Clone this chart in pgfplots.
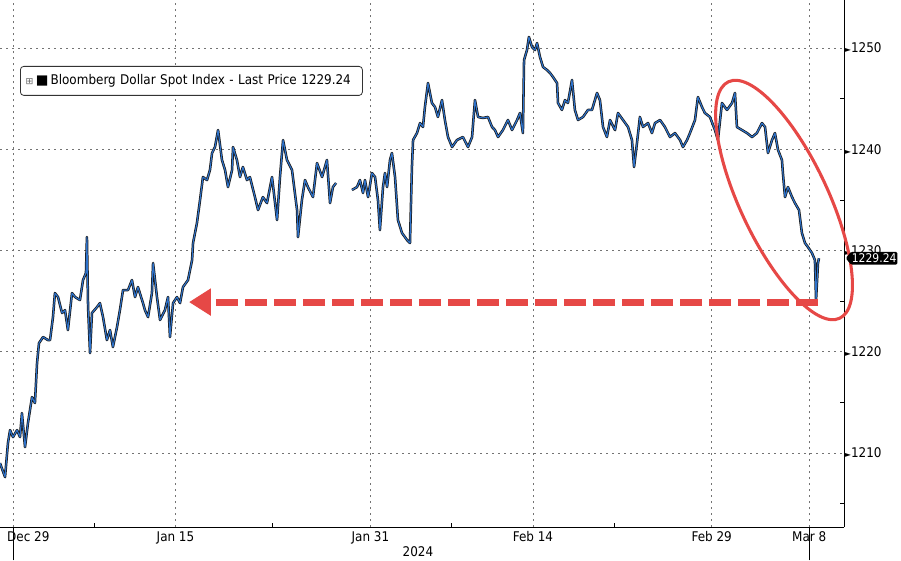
\documentclass[border=0pt]{standalone}
\usepackage{pgfplots}
\pgfplotsset{compat=1.18}
\usepackage{pgfplotstable}
\usepackage{fontspec}
\setmainfont{DejaVu Sans Condensed}
\newfontfamily\sym{DejaVu Sans}
\usetikzlibrary{arrows.meta,shapes.symbols}

\definecolor{bbblue}{RGB}{45,115,205}
\definecolor{annred}{RGB}{230,72,70}

% t = trading days since Dec 29, v = index level
\pgfplotstableread{
t v
-0.80 1209.01
-0.49 1207.63
-0.31 1210.99
-0.18 1212.27
0.00 1211.58
0.25 1212.27
0.43 1211.58
0.55 1213.95
0.74 1210.59
0.92 1212.96
1.17 1215.53
1.35 1214.94
1.48 1218.89
1.60 1220.86
1.85 1221.46
2.15 1221.16
2.28 1221.16
2.46 1223.43
2.58 1225.80
2.77 1225.41
3.02 1223.83
3.20 1224.12
3.38 1222.15
3.63 1225.80
3.82 1225.41
4.12 1225.11
4.31 1227.09
4.49 1227.78
4.55 1231.33
4.62 1224.42
4.74 1219.88
4.86 1223.83
5.17 1224.42
5.35 1224.81
5.54 1223.43
5.78 1221.16
5.97 1222.15
6.15 1220.47
6.40 1222.44
6.58 1224.12
6.77 1226.10
7.08 1226.10
7.32 1227.09
7.51 1225.41
7.69 1226.39
8.00 1224.81
8.12 1224.12
8.31 1223.43
8.55 1225.80
8.62 1228.77
8.86 1225.41
9.05 1223.14
9.35 1224.12
9.54 1225.41
9.66 1221.46
9.85 1224.81
10.09 1225.41
10.28 1224.81
10.46 1226.39
10.77 1227.09
11.02 1229.06
11.08 1230.74
11.32 1232.72
11.51 1234.99
11.69 1237.26
11.94 1236.96
12.12 1237.95
12.25 1239.63
12.43 1240.22
12.62 1241.90
12.86 1238.94
13.05 1237.95
13.23 1236.27
13.48 1237.95
13.54 1240.22
13.78 1238.94
13.97 1237.26
14.15 1238.25
14.40 1236.96
14.58 1237.26
14.89 1235.28
15.08 1234.00
15.38 1235.28
15.63 1234.69
15.94 1237.26
16.25 1233.01
16.43 1237.26
16.62 1240.91
16.86 1238.94
17.17 1237.95
17.48 1234.00
17.54 1231.33
17.78 1234.99
17.97 1236.96
18.15 1236.27
18.46 1235.28
18.71 1238.64
19.02 1237.26
19.32 1238.94
19.51 1234.69
19.69 1236.27
19.88 1236.67
20.40 nan
20.86 1235.98
21.17 1236.27
21.35 1236.96
21.54 1235.68
21.66 1236.96
21.85 1235.28
22.09 1237.65
22.28 1237.26
22.46 1234.99
22.58 1232.02
22.77 1236.27
22.89 1237.65
23.02 1236.27
23.20 1238.94
23.32 1239.63
23.51 1237.26
23.69 1233.01
23.94 1231.73
24.25 1231.04
24.43 1230.74
24.55 1238.25
24.62 1240.91
24.86 1241.60
25.05 1242.59
25.23 1242.20
25.35 1244.17
25.54 1246.54
25.78 1244.57
25.97 1244.17
26.15 1243.19
26.40 1244.86
26.58 1242.89
26.77 1241.21
27.02 1240.22
27.32 1240.91
27.69 1241.21
28.00 1240.22
28.25 1241.21
28.43 1244.86
28.62 1243.19
28.92 1243.09
29.23 1243.19
29.48 1242.20
29.66 1241.90
29.85 1241.21
30.15 1241.90
30.46 1242.89
30.71 1241.90
31.02 1242.89
31.20 1243.58
31.38 1241.60
31.45 1248.81
31.63 1249.80
31.75 1251.09
31.94 1250.10
32.12 1249.80
32.25 1250.49
32.43 1249.11
32.62 1248.12
32.86 1247.83
33.05 1247.53
33.23 1247.14
33.48 1246.54
33.54 1244.57
33.78 1243.88
33.97 1244.86
34.15 1244.57
34.40 1246.84
34.58 1243.88
34.77 1242.89
35.08 1243.19
35.38 1243.88
35.63 1243.88
35.94 1245.56
36.12 1244.86
36.31 1242.20
36.55 1241.21
36.74 1242.89
37.05 1241.90
37.23 1243.58
37.54 1242.89
37.85 1242.20
38.09 1240.91
38.22 1238.25
38.40 1240.62
38.58 1243.19
38.77 1242.20
39.08 1242.59
39.32 1241.60
39.51 1242.59
39.82 1242.89
40.12 1242.20
40.43 1241.21
40.74 1241.60
41.05 1240.91
41.23 1240.22
41.48 1240.91
41.66 1241.60
41.97 1242.89
42.15 1245.16
42.40 1244.17
42.58 1243.58
42.89 1243.19
43.20 1241.90
43.38 1240.91
43.63 1244.57
43.94 1243.88
44.25 1244.57
44.43 1245.56
44.55 1242.20
44.86 1241.90
45.17 1241.60
45.48 1241.21
45.78 1241.60
46.09 1242.59
46.28 1242.20
46.46 1239.63
46.71 1240.91
46.89 1241.60
47.08 1239.93
47.32 1238.94
47.38 1237.65
47.51 1235.28
47.69 1236.27
47.94 1235.28
48.12 1234.69
48.37 1234.00
48.55 1231.73
48.74 1230.74
48.92 1230.35
49.17 1229.75
49.35 1229.06
49.42 1225.11
49.54 1228.77
49.60 1229.24
}\dxy

\begin{document}
\begin{tikzpicture}
\begin{axis}[
    scale only axis,
    width=633pt, height=395.25pt,
    xmin=-0.8, xmax=51.14,
    ymin=1202.7, ymax=1254.74,
    axis x line*=bottom, axis y line*=right,
    axis line style={black, line width=0.6pt},
    xtick={0,10,22,32,43,49},
    xticklabels={{\hspace*{23pt}Dec 29}, Jan 15, Jan 31, Feb 14, Feb 29, Mar 8},
    minor xtick={4.98,15.94,26.95,36.98},
    ytick={1210,1220,1230,1240,1250},
    minor ytick={1205,1215,1225,1235,1245},
    major tick length=0pt, minor tick length=3pt, tick align=inside,
    tick style={black, line width=0.5pt},
    extra x ticks={0,49}, extra x tick labels={,},
    extra x tick style={major tick length=25pt, tick align=outside},
    grid=major,
    major grid style={black!55, line width=0.5pt, dash pattern=on 1.2pt off 3.3pt},
    tick label style={font=\fontsize{10}{12}\selectfont},
    /pgf/number format/assume math mode=true,
    /pgf/number format/1000 sep={},
    yticklabel={{\sym\fontsize{6}{6}\selectfont ►}\pgfmathprintnumber{\tick}},
    yticklabel style={inner xsep=0.5pt},
    unbounded coords=jump,
]
\addplot[black!90, line width=1.9pt, line join=round] table[x=t, y=v] {\dxy};
\addplot[bbblue, line width=0.8pt, line join=round] table[x=t, y=v] {\dxy};

\coordinate (ll) at (rel axis cs:0,0);
\coordinate (ur) at (rel axis cs:1,1);
\coordinate (tl) at (rel axis cs:0,1);
\coordinate (tag) at (axis cs:51.14,1229.24);
\coordinate (ec) at (axis cs:47.45,1234.99);
\coordinate (arA) at (axis cs:49.54,1224.91);
\coordinate (arB) at (axis cs:10.83,1224.91);
\end{axis}

% annotations
\draw[annred, line width=5.25pt, dash pattern=on 16.5pt off 5.25pt,
      -{Triangle[length=16.5pt, width=19.5pt]}] (arA) -- (arB);
\draw[annred, line width=2.3pt] (ec) circle[x radius=98pt, y radius=33pt, rotate=-64.8];

\node[anchor=north west, draw=black!80, line width=0.6pt, rounded corners=2.5pt,
      fill=white, text width=248.5pt, inner xsep=4pt, inner ysep=0pt,
      minimum height=21.75pt, align=left, font=\fontsize{10}{12}\selectfont]
  at ([xshift=15pt, yshift=-49.5pt]tl)
  {{\sym\color{black!60}\fontsize{7}{7}\selectfont ⊞}\,{\sym ■}\,Bloomberg Dollar Spot Index - Last Price 1229.24};

\node[signal, signal to=west, signal pointer angle=100, fill=black, text=white,
      inner xsep=0.6pt, inner ysep=1.4pt, rounded corners=1pt,
      anchor=west, font=\fontsize{9}{11}\selectfont] at ([xshift=1pt]tag) {1229.24};

\node[font=\fontsize{10}{12}\selectfont] at ([xshift=313.5pt, yshift=-18.75pt]ll) {2024};

\pgfresetboundingbox
\path ([yshift=-24.75pt]ll) rectangle ([xshift=42.75pt]ur);
\end{tikzpicture}
\end{document}
